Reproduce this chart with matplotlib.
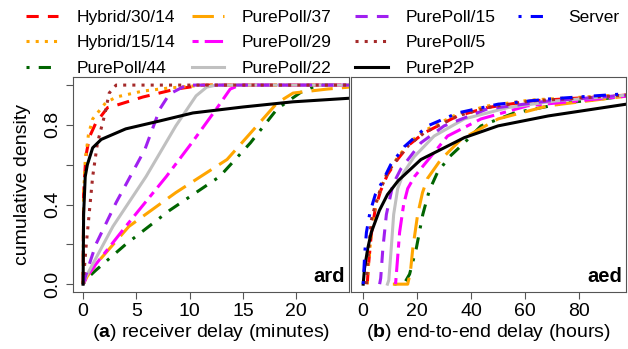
import matplotlib.pyplot as plt

plt.rcParams['font.family'] = ['Liberation Sans', 'DejaVu Sans']
plt.rcParams['mathtext.fontset'] = 'custom'
plt.rcParams['mathtext.rm'] = 'Liberation Sans'
plt.rcParams['mathtext.bf'] = 'Liberation Sans:bold'

labels = ['Hybrid/30/14', 'Hybrid/15/14', 'PurePoll/44', 'PurePoll/37', 'PurePoll/29',
          'PurePoll/22', 'PurePoll/15', 'PurePoll/5', 'PureP2P', 'Server']
colors = ['red', 'orange', 'darkgreen', 'orange', 'magenta',
          'silver', '#a020f0', 'brown', 'black', 'blue']
styles = [(0, (4, 3)), (0, (1, 2)), (0, (1, 3, 4, 3)), (0, (7, 3)), (0, (2, 2, 6, 2)),
          '-', (0, (4, 3)), (0, (1, 2)), '-', (0, (1, 3, 4, 3))]

# (a) receiver delay, minutes
ard_x = {
    'Hybrid/30/14': [0, 0.05, 0.25, 0.6, 1.2, 2.3, 3.2, 5.6, 8.7, 11.3, 25],
    'Hybrid/15/14': [0, 0.05, 0.2, 0.5, 0.9, 2.1, 3.1, 5.6, 8.0, 11.3, 25],
    'PurePoll/44': [0, 0.4, 1.2, 4.0, 8.1, 12.8, 15.7, 18.2, 20.4, 22.0, 25],
    'PurePoll/37': [0, 0.4, 1.2, 4.3, 8.7, 13.5, 16.3, 18.2, 19.7, 22.9, 25],
    'PurePoll/29': [0, 0.4, 1.2, 4.0, 7.8, 10.2, 12.5, 13.8, 14.7, 25],
    'PurePoll/22': [0, 0.2, 0.6, 2.8, 5.9, 8.7, 10.6, 11.6, 12.5, 25],
    'PurePoll/15': [0, 0.4, 1.2, 3.1, 5.8, 7.2, 8.1, 9.7, 25],
    'PurePoll/5': [0, 0.3, 0.9, 1.35, 2.0, 2.45, 3.1, 25],
    'PureP2P': [0, 0.05, 0.2, 0.4, 0.9, 1.7, 4.0, 7.2, 10.3, 15.0, 19.7, 25],
}
ard_y = {
    'Hybrid/30/14': [0, 0.45, 0.64, 0.74, 0.81, 0.887, 0.90, 0.94, 0.98, 1.0, 1.0],
    'Hybrid/15/14': [0, 0.45, 0.62, 0.75, 0.83, 0.91, 0.94, 0.97, 0.985, 1.0, 1.0],
    'PurePoll/44': [0, 0.03, 0.07, 0.20, 0.37, 0.54, 0.71, 0.88, 0.963, 1.0, 1.0],
    'PurePoll/37': [0, 0.04, 0.10, 0.29, 0.46, 0.626, 0.795, 0.91, 0.96, 0.98, 0.99],
    'PurePoll/29': [0, 0.04, 0.10, 0.29, 0.54, 0.71, 0.88, 0.98, 1.0, 1.0],
    'PurePoll/22': [0, 0.03, 0.07, 0.29, 0.54, 0.795, 0.946, 0.99, 1.0, 1.0],
    'PurePoll/15': [0, 0.07, 0.20, 0.41, 0.677, 0.88, 0.955, 1.0, 1.0],
    'PurePoll/5': [0, 0.20, 0.54, 0.71, 0.845, 0.96, 1.0, 1.0],
    'PureP2P': [0, 0.35, 0.54, 0.60, 0.685, 0.727, 0.78, 0.82, 0.86, 0.89, 0.916, 0.934],
}

# (b) end-to-end delay, hours
aed_x = {
    'Hybrid/30/14': [1.5, 2.0, 3.0, 4.5, 6.5, 9.0, 12.7, 17.0, 22.6, 35, 46, 62, 98],
    'Hybrid/15/14': [1.5, 2.0, 3.0, 4.5, 6.5, 9.0, 12.7, 17.0, 22.6, 35, 46, 62, 98],
    'PurePoll/44': [11.5, 15.5, 17.2, 19.7, 22.1, 24.5, 27.5, 32.0, 37.5, 43.7, 56, 74.8, 98],
    'PurePoll/37': [11.0, 16.5, 17.5, 18.4, 20.2, 22.0, 23.8, 28.8, 36.3, 50, 68.6, 98],
    'PurePoll/29': [12.0, 12.3, 13.5, 15.0, 16.5, 19.0, 22.6, 31.3, 43.7, 61, 98],
    'PurePoll/22': [9.0, 9.5, 10.4, 11.3, 12.8, 15.0, 18.9, 26.3, 37.5, 53.7, 71, 98],
    'PurePoll/15': [6.1, 6.5, 7.3, 8.6, 11.0, 14.0, 21.4, 30, 46, 68.6, 98],
    'PurePoll/5': [1.2, 1.6, 2.1, 3.0, 4.5, 6.5, 9.0, 12.7, 17.0, 22.6, 35, 46, 62, 98],
    'PureP2P': [0, 0.5, 1.7, 3.0, 6.0, 9.0, 13.0, 21.4, 37.5, 50, 68.6, 98],
    'Server': [0, 0.3, 0.6, 1.2, 2.5, 4.5, 7.3, 10.2, 15.2, 23.9, 35, 50, 68.6, 98],
}
aed_y = {
    'Hybrid/30/14': [0, 0.10, 0.25, 0.38, 0.47, 0.55, 0.626, 0.70, 0.76, 0.845, 0.887, 0.92, 0.95],
    'Hybrid/15/14': [0, 0.10, 0.26, 0.39, 0.48, 0.56, 0.635, 0.71, 0.77, 0.855, 0.895, 0.925, 0.952],
    'PurePoll/44': [0, 0.01, 0.05, 0.18, 0.35, 0.47, 0.56, 0.64, 0.71, 0.795, 0.86, 0.91, 0.945],
    'PurePoll/37': [0, 0.0, 0.06, 0.18, 0.35, 0.46, 0.53, 0.626, 0.727, 0.83, 0.896, 0.945],
    'PurePoll/29': [0, 0.05, 0.26, 0.40, 0.48, 0.54, 0.60, 0.744, 0.83, 0.896, 0.945],
    'PurePoll/22': [0, 0.02, 0.18, 0.35, 0.48, 0.56, 0.64, 0.744, 0.83, 0.887, 0.92, 0.95],
    'PurePoll/15': [0, 0.03, 0.18, 0.35, 0.50, 0.58, 0.71, 0.795, 0.88, 0.92, 0.95],
    'PurePoll/5': [0, 0.08, 0.18, 0.32, 0.40, 0.48, 0.56, 0.63, 0.70, 0.76, 0.845, 0.887, 0.92, 0.95],
    'PureP2P': [0, 0.08, 0.18, 0.26, 0.37, 0.45, 0.52, 0.626, 0.736, 0.795, 0.845, 0.905],
    'Server': [0, 0.08, 0.16, 0.26, 0.36, 0.45, 0.52, 0.60, 0.69, 0.795, 0.86, 0.904, 0.93, 0.957],
}

fig = plt.figure(figsize=(6.28, 3.49), dpi=100)
ax1 = fig.add_axes([0.116, 0.163, 0.440, 0.616])
ax2 = fig.add_axes([0.559, 0.163, 0.438, 0.616])

lw = 2.2
handles = []
for name, c, ls in zip(labels, colors, styles):
    if name in ard_x:
        ax1.plot(ard_x[name], ard_y[name], color=c, linestyle=ls, lw=lw)
    h, = ax2.plot(aed_x[name], aed_y[name], color=c, linestyle=ls, lw=lw, label=name)
    handles.append(h)

for ax in (ax1, ax2):
    ax.set_ylim(-0.04, 1.04)
    for s in ax.spines.values():
        s.set_color('#555555')
    ax.tick_params(colors='#555555', labelcolor='black', labelsize=14, length=5,
                   direction='out', pad=3)

ax1.set_xlim(-0.96, 24.96)
ax1.set_xticks([0, 5, 10, 15, 20])
ax1.set_yticks([0, 0.2, 0.4, 0.6, 0.8, 1.0])
ax1.set_yticklabels(['0.0', '', '0.4', '', '0.8', ''], rotation=90, va='center')
ax1.set_ylabel('cumulative density', fontsize=14, labelpad=10)
ax1.set_xlabel(r'($\mathbf{a}$) receiver delay (minutes)', fontsize=14, labelpad=1)
ax1.text(0.985, 0.03, 'ard', transform=ax1.transAxes, ha='right', va='bottom',
         fontsize=14.5, fontweight='bold')

ax2.set_xlim(-4.5, 97.5)
ax2.set_xticks([0, 20, 40, 60, 80])
ax2.set_yticks([])
ax2.set_xlabel(r'($\mathbf{b}$) end-to-end delay (hours)', fontsize=14, labelpad=1)
ax2.text(0.985, 0.03, 'aed', transform=ax2.transAxes, ha='right', va='bottom',
         fontsize=14.5, fontweight='bold')

# legend: 4 fixed-width columns x 3 rows, filled top to bottom (one entry each)
col_x = [0.042, 0.305, 0.566, 0.825]
row_y = [1 - 17 / 349, 1 - 42 / 349, 1 - 68 / 349]
for i, h in enumerate(handles):
    fig.legend(handles=[h], loc='center left',
               bbox_to_anchor=(col_x[i // 3], row_y[i % 3]), frameon=False,
               fontsize=12.5, handlelength=1.85, handletextpad=1.06,
               borderaxespad=0.0, borderpad=0.0)

fig.savefig('out.png', dpi=100)
